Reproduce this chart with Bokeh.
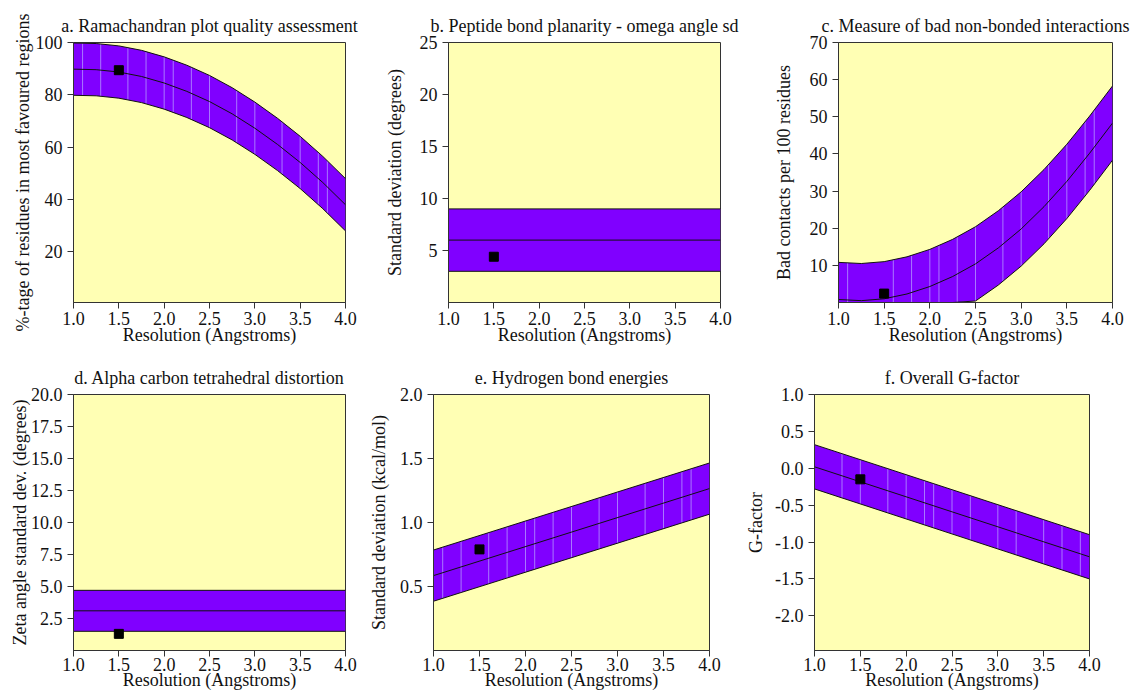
import numpy as np
from bokeh.plotting import figure
from bokeh.layouts import column, row
from bokeh.models import FixedTicker, PrintfTickFormatter, Range1d
from bokeh.embed import file_html
from bokeh.resources import INLINE

# ---------------- data ----------------
res_grid = [1.0, 1.25, 1.5, 1.75, 2.0, 2.25, 2.5, 2.75, 3.0, 3.25, 3.5, 3.75, 4.0]
res_ends = [1.0, 4.0]
x_ticks = [1.0, 1.5, 2.0, 2.5, 3.0, 3.5, 4.0]
my_resolution = 1.5

# a. Ramachandran plot quality
a_center = [89.8, 89.6, 88.7, 87.0, 84.5, 81.3, 77.4, 72.7, 67.2, 61.0, 54.1, 46.4, 37.9]
a_upper = [99.8, 99.6, 98.7, 97.0, 94.5, 91.3, 87.4, 82.7, 77.2, 71.0, 64.1, 56.4, 47.9]
a_lower = [79.8, 79.6, 78.7, 77.0, 74.5, 71.3, 67.4, 62.7, 57.2, 51.0, 44.1, 36.4, 27.9]
a_value = 89.4
a_yticks = [20, 40, 60, 80, 100]
a_seams = [1.1, 1.3, 1.6, 1.8, 2.0, 2.1, 2.3, 2.5, 2.8, 3.0, 3.3, 3.5, 3.7, 3.8]

# b. Peptide bond planarity
b_center = [6.0, 6.0]
b_upper = [9.0, 9.0]
b_lower = [3.0, 3.0]
b_value = 4.4
b_yticks = [5, 10, 15, 20, 25]

# c. Bad non-bonded interactions
c_center = [0.8, 0.5, 1.0, 2.3, 4.3, 7.0, 10.4, 14.7, 19.8, 25.8, 32.6, 40.2, 48.3]
c_upper = [10.8, 10.5, 11.0, 12.3, 14.3, 17.0, 20.4, 24.7, 29.8, 35.8, 42.6, 50.2, 58.3]
c_lower = [0.0, 0.0, 0.0, 0.0, 0.0, 0.0, 0.4, 4.7, 9.8, 15.8, 22.6, 30.2, 38.3]
c_value = 2.4
c_yticks = [10, 20, 30, 40, 50, 60, 70]
c_seams = [1.1, 1.6, 1.8, 2.0, 2.1, 2.3, 2.5, 2.8, 3.0, 3.3, 3.5, 3.7, 3.8]

# d. Alpha carbon tetrahedral distortion
d_center = [3.1, 3.1]
d_upper = [4.7, 4.7]
d_lower = [1.5, 1.5]
d_value = 1.3
d_yticks = [2.5, 5.0, 7.5, 10.0, 12.5, 15.0, 17.5, 20.0]

# e. Hydrogen bond energies
e_center = [0.585, 1.265]
e_upper = [0.785, 1.465]
e_lower = [0.385, 1.065]
e_value = 0.79
e_yticks = [0.5, 1.0, 1.5, 2.0]
e_seams = [1.1, 1.3, 1.6, 1.8, 2.0, 2.1, 2.3, 2.5, 2.8, 3.0, 3.3, 3.5, 3.7, 3.8]

# f. Overall G-factor
f_center = [0.02, -1.2]
f_upper = [0.32, -0.9]
f_lower = [-0.28, -1.5]
f_value = -0.15
f_yticks = [-2.0, -1.5, -1.0, -0.5, 0.0, 0.5, 1.0]
f_seams = [1.3, 1.5, 1.8, 2.0, 2.2, 2.3, 2.5, 2.7, 3.0, 3.2, 3.5, 3.7, 3.9]

# ---------------- styling ----------------
FONT = "Liberation Serif"
FS = "18px"
YELLOW = "#ffffb4"
PURPLE = "#8000ff"
SEAM = "#a978ff"
XLABEL = "Resolution (Angstroms)"


def panel(title, ylabel, yr, yticks, yfmt, x, center, upper, lower, value, seams,
          width, height, mbl, mbr, mbt, mbb, ylab_standoff, x_lab_std, x_axlab_std):
    p = figure(width=width, height=height, output_backend="svg", toolbar_location=None,
               x_range=Range1d(1.0, 4.0), y_range=Range1d(*yr),
               min_border_left=mbl, min_border_right=mbr,
               min_border_top=mbt, min_border_bottom=mbb,
               background_fill_color=YELLOW, border_fill_color="white",
               outline_line_color="#333333", outline_line_width=1)
    p.title.text = title
    p.title.align = "center"
    p.title.text_font = FONT
    p.title.text_font_size = FS
    p.title.text_font_style = "normal"
    p.title.text_color = "#111111"
    p.title.standoff = 14
    p.grid.visible = False

    p.varea(x=x, y1=lower, y2=upper, fill_color=PURPLE)
    if seams:
        s_lo = np.interp(seams, x, lower)
        s_hi = np.interp(seams, x, upper)
        p.segment(x0=seams, y0=s_lo, x1=seams, y1=s_hi, line_color=SEAM, line_width=1)
    p.line(x, upper, line_color="#111111", line_width=1)
    p.line(x, lower, line_color="#111111", line_width=1)
    p.line(x, center, line_color="#111111", line_width=1)
    p.scatter([my_resolution], [value], marker="square", size=9, color="black")

    p.xaxis.ticker = FixedTicker(ticks=x_ticks)
    p.xaxis.formatter = PrintfTickFormatter(format="%.1f")
    p.yaxis.ticker = FixedTicker(ticks=yticks)
    p.yaxis.formatter = PrintfTickFormatter(format=yfmt)
    p.yaxis.axis_label = ylabel
    p.xaxis.axis_label = XLABEL
    for ax in (p.xaxis, p.yaxis):
        ax.axis_label_text_font = FONT
        ax.axis_label_text_font_size = FS
        ax.axis_label_text_font_style = "normal"
        ax.axis_label_text_color = "#111111"
        ax.major_label_text_font = FONT
        ax.major_label_text_font_size = FS
        ax.major_label_text_color = "#111111"
        ax.axis_line_color = "#333333"
        ax.major_tick_line_color = "#333333"
        ax.major_tick_out = 6
        ax.major_tick_in = 0
        ax.minor_tick_line_color = None
    p.yaxis.major_label_standoff = 5
    p.yaxis.axis_label_standoff = ylab_standoff
    p.xaxis.major_label_standoff = x_lab_std
    p.xaxis.axis_label_standoff = x_axlab_std
    return p


# top row: 352 px tall, bottom row: 345 px tall
pa = panel("a. Ramachandran plot quality assessment",
           "%-tage of residues in most favoured regions", (0.5, 100), a_yticks, "%d",
           res_grid, a_center, a_upper, a_lower, a_value, a_seams,
           380, 352, 73, 35, 39, 50, 0, 3, -3)
pb = panel("b. Peptide bond planarity - omega angle sd",
           "Standard deviation (degrees)", (0, 25), b_yticks, "%d",
           res_ends, b_center, b_upper, b_lower, b_value, None,
           380, 352, 68, 40, 39, 49, 12, 3, -3)
pc = panel("c. Measure of bad non-bonded interactions",
           "Bad contacts per 100 residues", (0, 70), c_yticks, "%d",
           res_grid, c_center, c_upper, c_lower, c_value, c_seams,
           373, 352, 78, 21, 42, 46, 13, 3, -3)
pd = panel("d. Alpha carbon tetrahedral distortion",
           "Zeta angle standard dev. (degrees)", (0, 20), d_yticks, "%.1f",
           res_ends, d_center, d_upper, d_lower, d_value, None,
           365, 345, 73, 20, 42, 47, -2, 1, -4)
pe = panel("e. Hydrogen bond energies",
           "Standard deviation (kcal/mol)", (0, 2.0), e_yticks, "%.1f",
           res_ends, e_center, e_upper, e_lower, e_value, e_seams,
           378, 345, 68, 34, 39, 47, 8, 1, -4)
pf = panel("f. Overall G-factor",
           "G-factor", (-2.47, 1.0), f_yticks, "%.1f",
           res_ends, f_center, f_upper, f_lower, f_value, f_seams,
           390, 345, 70, 44, 39, 47, 6, 1, -4)

layout = column(row(pa, pb, pc), row(pd, pe, pf))
open("out.html", "w").write(file_html(layout, INLINE))
